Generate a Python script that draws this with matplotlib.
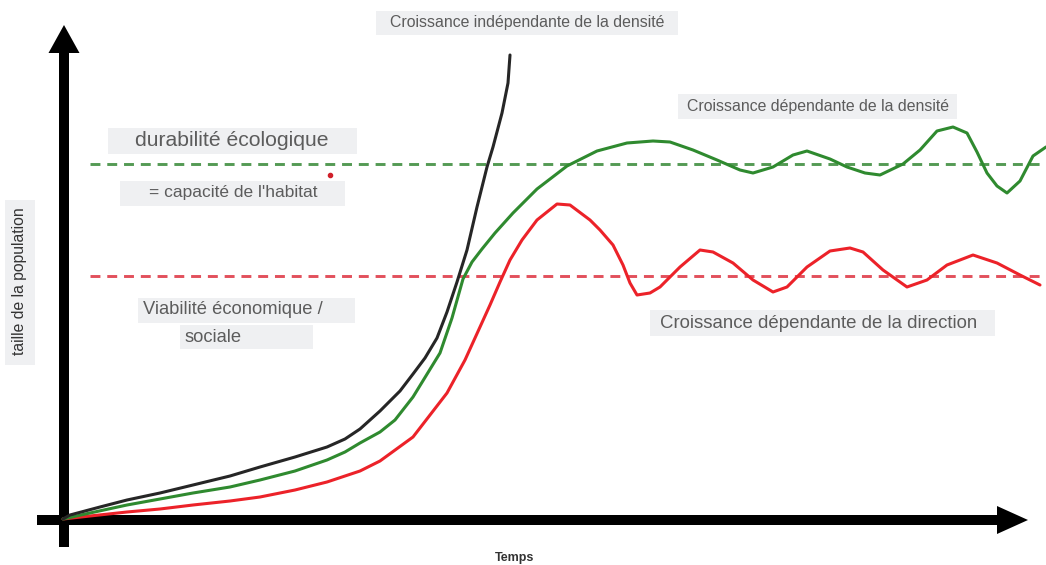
import matplotlib.pyplot as plt
from matplotlib.patches import FancyArrow, Rectangle

plt.rcParams['font.family'] = ['Liberation Sans', 'DejaVu Sans']

# curves (x = time in px, y = population in px from top)
black_x = [63, 70, 100, 127, 160, 193, 230, 260, 295, 327, 345, 360, 380, 400, 413, 425, 437, 447,
           457, 467, 477, 487, 493, 502, 508, 510]
black_y = [519, 515, 507, 500, 493, 485, 476, 467, 457, 447, 439, 429, 411, 391, 374, 358, 338, 312,
           282, 250, 207, 167, 147, 113, 83, 55]

green_x = [63, 90, 127, 160, 193, 230, 260, 295, 327, 345, 360, 380, 395, 413, 440, 452, 463, 472,
           482, 495, 513, 537, 567, 597, 627, 653, 670, 693, 717, 740, 753, 773, 793, 807, 830, 847,
           865, 880, 903, 920, 937, 953, 967, 977, 987, 997, 1007, 1020, 1033, 1046]
green_y = [519, 513, 505, 499, 493, 487, 480, 471, 460, 452, 443, 432, 420, 397, 353, 318, 279, 262,
           249, 233, 213, 189, 166, 151, 143, 141, 142, 150, 160, 170, 173, 167, 155, 151, 159, 167,
           173, 175, 164, 150, 131, 127, 133, 152, 173, 186, 193, 181, 156, 147]

red_x = [63, 90, 127, 160, 193, 230, 260, 295, 327, 360, 380, 413, 447, 465, 480, 490, 500, 510,
         522, 537, 557, 570, 590, 600, 613, 623, 630, 637, 650, 660, 680, 700, 713, 733, 753, 773,
         787, 807, 830, 850, 863, 883, 907, 927, 947, 973, 997, 1020, 1040]
red_y = [519, 516, 512, 509, 505, 501, 497, 490, 482, 471, 461, 437, 393, 360, 327, 305, 282, 260,
         240, 220, 204, 205, 220, 230, 245, 265, 283, 295, 293, 287, 267, 250, 252, 263, 280, 292,
         287, 267, 251, 248, 252, 270, 287, 280, 265, 255, 263, 275, 285]

capacity_level = 164
viability_level = 276

fig = plt.figure(figsize=(10.46, 5.65), dpi=100)
ax = fig.add_axes([0, 0, 1, 1])
ax.set_xlim(0, 1046)
ax.set_ylim(565, 0)
ax.axis('off')

# label backgrounds (x0, x1, y0, y1)
boxes = [(376, 678, 11, 35), (678, 957, 94, 119), (108, 357, 128, 154), (120, 345, 181, 206),
         (138, 355, 298, 323), (180, 313, 325, 349), (650, 995, 310, 336), (5, 35, 200, 365)]
for x0, x1, y0, y1 in boxes:
    ax.add_patch(Rectangle((x0, y0), x1 - x0, y1 - y0, facecolor='#eff0f2', edgecolor='none', zorder=0))

# dashed reference levels
ax.plot([90, 1046], [capacity_level] * 2, color='#549a54', lw=2.1, ls=(0, (3.4, 2.35)))
ax.plot([90, 1046], [viability_level] * 2, color='#e2505c', lw=2.1, ls=(0, (3.4, 2.35)))

# curves
kw = dict(lw=2.2, solid_joinstyle='round', solid_capstyle='round')
ax.plot(red_x, red_y, color='#ec2229', **kw)
ax.plot(green_x, green_y, color='#2f8a2f', **kw)
ax.plot(black_x, black_y, color='#262626', **kw)

# axes arrows
ax.add_patch(FancyArrow(64, 547, 0, -522, width=10, head_width=31, head_length=28,
                        length_includes_head=True, color='black', lw=0))
ax.add_patch(FancyArrow(37, 520, 991, 0, width=10, head_width=28, head_length=31,
                        length_includes_head=True, color='black', lw=0))
ax.plot([330], [175], 'o', color='#d0202a', ms=3)

txt = '#5c5c5c'
ax.text(527, 23, 'Croissance indépendante de la densité', ha='center', va='center',
        fontsize=11.4, color=txt)
ax.text(818, 106, 'Croissance dépendante de la densité', ha='center', va='center',
        fontsize=11.4, color=txt)
ax.text(232, 141, 'durabilité écologique', ha='center', va='center', fontsize=15.2, color=txt)
ax.text(233, 193, "= capacité de l'habitat", ha='center', va='center', fontsize=12.5, color=txt)
ax.text(143, 310, 'Viabilité économique /', ha='left', va='center', fontsize=13.2, color=txt)
ax.text(185, 337, 'sociale', ha='left', va='center', fontsize=13.2, color=txt)
ax.text(819, 323, 'Croissance dépendante de la direction', ha='center', va='center',
        fontsize=13.4, color=txt)
ax.text(20, 281, 'taille de la population', ha='center', va='center', rotation=90,
        fontsize=11.3, color='#333333')
ax.text(515, 558, 'Temps', ha='center', va='center', fontsize=9, color='#333333', fontweight='bold')

fig.savefig('out.png', dpi=100)
